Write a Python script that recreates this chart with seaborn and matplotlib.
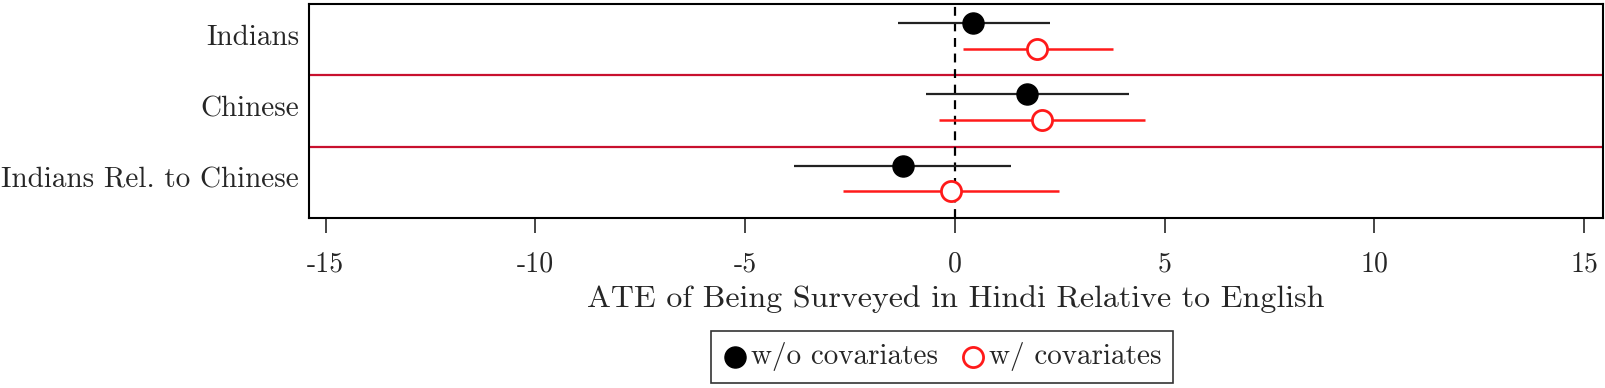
import numpy as np
import pandas as pd
import seaborn as sns
from matplotlib import pyplot as plt

# estimates
groups = ['Indians', 'Chinese', 'Indians Rel. to Chinese']
est_nocov = [0.44, 1.71, -1.25]
lo_nocov = [-1.35, -0.70, -3.83]
hi_nocov = [2.27, 4.14, 1.33]
est_cov = [1.95, 2.07, -0.10]
lo_cov = [0.18, -0.37, -2.67]
hi_cov = [3.76, 4.52, 2.48]
xticks = [-15, -10, -5, 0, 5, 10, 15]

sns.set_style('white')
plt.rcParams['font.family'] = ['cmr10', 'DejaVu Serif']
plt.rcParams['mathtext.fontset'] = 'cm'
plt.rcParams['axes.unicode_minus'] = False

pos = np.arange(len(groups))
d = pd.DataFrame({
    'group': groups * 2,
    'y': np.concatenate([pos - 0.235, pos + 0.128]),
    'est': est_nocov + est_cov,
    'lo': lo_nocov + lo_cov,
    'hi': hi_nocov + hi_cov,
    'model': ['w/o covariates'] * 3 + ['w/ covariates'] * 3,
})

fig = plt.figure(figsize=(16.05, 3.88), dpi=100)
ax = fig.add_axes([0.1925, 0.4381, 0.8063, 0.5516])

# separators between groups
for b in pos[:-1] + 0.5:
    ax.axhline(b, color='#c8102e', lw=1.6, zorder=1)
ax.axvline(0, color='black', lw=1.6, ls=(0, (4, 3)), zorder=1)

nc = d[d.model == 'w/o covariates']
wc = d[d.model == 'w/ covariates']
ax.hlines(nc.y, nc.lo, nc.hi, color='#222222', lw=1.6, zorder=2)
ax.hlines(wc.y, wc.lo, wc.hi, color='#ff1a1a', lw=1.8, zorder=2)
sns.scatterplot(data=nc, x='est', y='y', ax=ax, s=230, color='black',
                edgecolor='black', linewidth=1, zorder=3, label='w/o covariates')
sns.scatterplot(data=wc, x='est', y='y', ax=ax, s=210, color='white',
                edgecolor='#ff1a1a', linewidth=2, zorder=3, label='w/ covariates')

ax.set_xlim(-15.4, 15.45)
ax.set_ylim(2.5, -0.5)
ax.set_xticks(xticks)
ax.set_xticklabels([str(t) for t in xticks], fontsize=20)
ax.set_yticks(pos - 0.07)
ax.set_yticklabels(groups, fontsize=21)
ax.tick_params(axis='x', direction='out', length=11, width=1.2, pad=13, bottom=True)
ax.tick_params(axis='y', length=0, pad=7)
ax.set_xlabel('ATE of Being Surveyed in Hindi Relative to English', fontsize=23, labelpad=5)
ax.set_ylabel('')
for s in ax.spines.values():
    s.set_color('black')
    s.set_linewidth(1.5)

h, l = ax.get_legend_handles_labels()
ax.get_legend().remove()
leg = fig.legend(h, l, loc='center', bbox_to_anchor=(0.587, 0.0804), ncol=2,
                 fontsize=21, frameon=True, fancybox=False, edgecolor='black',
                 handletextpad=0.15, columnspacing=0.8, borderpad=0.4,
                 handlelength=0.8)
leg.get_frame().set_linewidth(1.2)

fig.savefig('out.png', dpi=100)
